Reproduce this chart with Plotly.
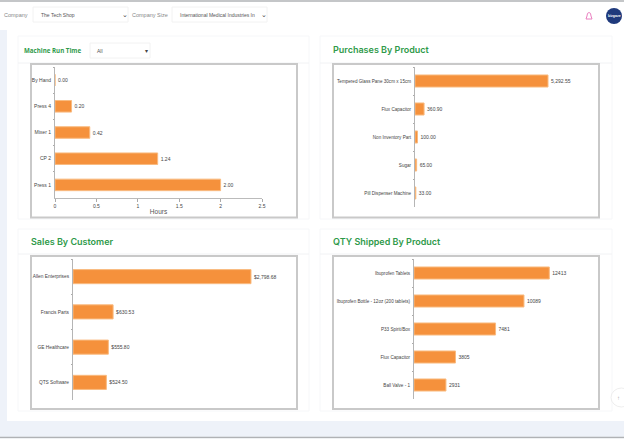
import plotly.graph_objects as go

W, H = 624, 439
BAR = "#f5913c"
EDGE = "#f9bb80"
GREEN = "#2f9a4a"
GREY = "#c9c9c9"

machines = ["By Hand", "Press 4", "Mixer 1", "CP 2", "Press 1"]
machine_hours = [0.0, 0.20, 0.42, 1.24, 2.00]
machine_labels = ["0.00", "0.20", "0.42", "1.24", "2.00"]

products = ["Tempered Glass Pane 30cm x 15cm", "Flux Capacitor", "Non Inventory Part", "Sugar", "Pill Dispenser Machine"]
purchases = [5292.55, 360.90, 100.00, 65.00, 33.00]
purchase_labels = ["5,292.55", "360.90", "100.00", "65.00", "33.00"]

customers = ["Allen Enterprises", "Francis Parts", "GE Healthcare", "QTS Software"]
sales = [2798.68, 630.53, 555.80, 524.50]
sales_labels = ["$2,798.68", "$630.53", "$555.80", "$524.50"]

shipped_products = ["Ibuprofen Tablets", "Ibuprofen Bottle - 12oz (200 tablets)", "P33 Spirit/Box", "Flux Capacitor", "Ball Valve - 1"]
shipped = [12413, 10089, 7481, 3805, 2931]
shipped_labels = ["12413", "10089", "7481", "3805", "2931"]


def px(x):
    return x / W


def py(y):
    return 1 - y / H


shapes = []
annotations = []


def rect(x0, y0, x1, y1, fill="white", line=None, lw=1):
    shapes.append(dict(type="rect", xref="paper", yref="paper", x0=px(x0), x1=px(x1), y0=py(y0), y1=py(y1),
                       fillcolor=fill, line=dict(color=line or fill, width=lw if line else 0), layer="below"))


def hline(x0, x1, y, color, lw=1):
    shapes.append(dict(type="line", xref="paper", yref="paper", x0=px(x0), x1=px(x1), y0=py(y), y1=py(y),
                       line=dict(color=color, width=lw), layer="below"))


def text(x, y, s, size=6, color="#555555", anchor="left", weight=None, family="Liberation Sans"):
    annotations.append(dict(xref="paper", yref="paper", x=px(x), y=py(y), text=s, showarrow=False,
                            xanchor=anchor, yanchor="middle", borderpad=0, xshift=0,
                            font=dict(size=size, color=color, family=family, weight=weight)))


# page
rect(0, 0, W, H, "#eef2f9")
rect(7, 30, W, 421, "white")
rect(0, 2, W, 30, "white")
hline(0, W, 1, "#c4c6c8", 2)
hline(0, W, 437.5, "#b0b2b5", 1.5)
rect(0, 438.5, W, H, "white")

# header controls
text(3, 14.5, "Company", 5.5, "#888888")
rect(33, 7, 128, 22, "white", "#f2f2f2")
text(40, 14.5, "The Tech Shop", 5, "#555555")
text(125, 14.5, "⌄", 7, "#444444", "center")
text(131, 14.5, "Company Size", 5.5, "#888888")
rect(172, 7, 267, 22, "white", "#f2f2f2")
text(179, 14.5, "International Medical Industries In", 5, "#555555")
text(264, 14.5, "⌄", 7, "#444444", "center")

# bell + avatar
shapes.append(dict(type="path", xref="paper", yref="paper", layer="below",
                   path=f"M {px(586)} {py(19)} L {px(592)} {py(19)} L {px(591)} {py(16)} Q {px(591)} {py(12.5)} {px(589)} {py(12.5)} "
                        f"Q {px(587)} {py(12.5)} {px(587)} {py(16)} Z",
                   line=dict(color="#ea7fc0", width=1), fillcolor="white"))
shapes.append(dict(type="circle", xref="paper", yref="paper", x0=px(606), x1=px(622), y0=py(8), y1=py(24),
                   fillcolor="#1f3a7c", line=dict(width=0), layer="below"))
text(614, 16, "bizgaze", 3.5, "white", "center", 700)

# cards
for x0, x1, y0, y1, yl in [(18, 309, 36, 219, 63), (320, 612, 36, 219, 63), (18, 309, 229, 411, 254), (320, 612, 229, 411, 254)]:
    rect(x0, y0, x1, y1, "white", "#f6f7f9")
    hline(x0, x1, yl, "#f1f2f4", 1)

text(23, 50.5, "Machine Run Time", 6.2, GREEN, weight=700, family="Open Sans")
rect(90, 43, 150, 58, "white", "#f2f2f2")
text(96, 50.5, "All", 5, "#555555")
text(146, 50.5, "▾", 6, "#444444", "center")
text(332, 49, "Purchases By Product", 9, GREEN, weight=600, family="Inter")
text(30, 241, "Sales By Customer", 9, GREEN, weight=600, family="Inter")
text(332, 241, "QTY Shipped By Product", 9, GREEN, weight=600, family="Inter")

# frames
for x0, x1, y0, y1 in [(31, 297, 64, 217.5), (333, 599, 64, 217.5), (31, 297, 256, 409), (333, 599, 256, 409)]:
    rect(x0, y0, x1, y1, "white", GREY, 2)

# scroll to top
shapes.append(dict(type="circle", xref="paper", yref="paper", x0=px(611), x1=px(632), y0=py(388), y1=py(407),
                   fillcolor="white", line=dict(color="#eeeeee", width=1), layer="below"))
text(618, 397.5, "↑", 6, "#aaaaaa", "center")

fig = go.Figure()

panels = [
    ("", machines, machine_hours, machine_labels, (55, 262), (67, 198), [0, 2.5], True, 0.56, 5),
    ("2", products, purchases, purchase_labels, (415, 590), (67, 207), [0, 6964], False, 0.57, 4.6),
    ("3", customers, sales, sales_labels, (73, 290), (259, 400), [0, 3412], False, 0.60, 4.8),
    ("4", shipped_products, shipped, shipped_labels, (414, 590), (259, 399), [0, 16146], False, 0.57, 4.6),
]
layout = {}
for suffix, cats, vals, labels, xd, yd, xr, show_x, gap, fsize in panels:
    fig.add_trace(go.Bar(y=cats, x=vals, text=labels, orientation="h", textposition="outside", cliponaxis=False,
                         xaxis="x" + suffix, yaxis="y" + suffix, width=1 - gap,
                         marker=dict(color=BAR, line=dict(color=EDGE, width=1)),
                         textfont=dict(size=5, color="#444444", family="Liberation Sans"),
                         hoverinfo="skip", showlegend=False))
    layout["xaxis" + suffix] = dict(domain=[px(xd[0]), px(xd[1])], range=xr, anchor="y" + suffix,
                                    visible=show_x, showgrid=False, zeroline=False,
                                    **(dict(tickmode="array", tickvals=[0, 0.5, 1, 1.5, 2, 2.5],
                                            ticktext=["0", "0.5", "1", "1.5", "2", "2.5"],
                                            ticks="outside", ticklen=3, tickcolor="#aaaaaa",
                                            showline=True, linecolor="#bbbbbb",
                                            tickfont=dict(size=5, color="#444444", family="Liberation Sans"),
                                            title=dict(text="Hours", standoff=1,
                                                       font=dict(size=6.5, color="#555555", family="Liberation Sans"))
                                            ) if show_x else {}))
    layout["yaxis" + suffix] = dict(domain=[py(yd[1]), py(yd[0])], anchor="x" + suffix,
                                    type="category", categoryorder="array", categoryarray=cats,
                                    autorange="reversed", tickson="boundaries", ticks="outside", ticklen=1.5,
                                    tickcolor="#aaaaaa", showline=True, linecolor="#b5b5b5", linewidth=1,
                                    showgrid=False, zeroline=False, ticklabelstandoff=2,
                                    tickfont=dict(size=fsize, color="#444444", family="Liberation Sans"))

fig.update_layout(width=W, height=H, margin=dict(l=0, r=0, t=0, b=0, autoexpand=False), bargap=0.5,
                  paper_bgcolor="white", plot_bgcolor="rgba(0,0,0,0)", shapes=shapes, annotations=annotations,
                  **layout)
fig.write_html("out.html", config=dict(displayModeBar=False),
               post_script="document.body.style.margin='0';document.body.style.overflow='hidden';")
